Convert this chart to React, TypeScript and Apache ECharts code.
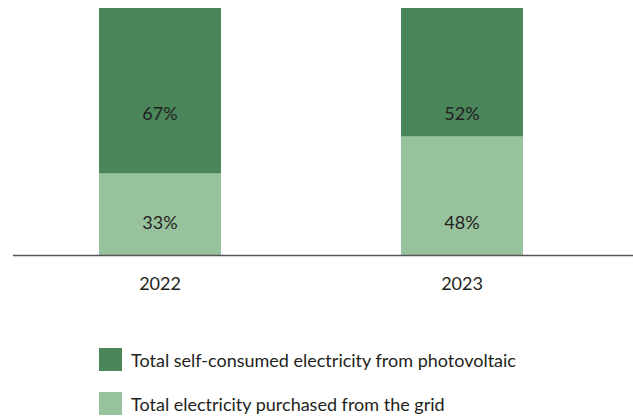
import React, { useEffect, useRef } from "react";
import * as echarts from "echarts";

const categories = ["2022", "2023"];
const selfConsumed = [67, 52];
const purchased = [33, 48];
const seriesNames = [
  "Total self-consumed electricity from photovoltaic",
  "Total electricity purchased from the grid",
];

const DARK = "#4a865a";
const LIGHT = "#98c29e";
const TEXT = "#231f20";
const FONT = "Lato";

export default function App() {
  const ref = useRef<HTMLDivElement>(null);
  useEffect(() => {
    const chart = echarts.init(ref.current!, null, { renderer: "svg" });
    chart.setOption({
      animation: false,
      textStyle: { fontFamily: FONT, color: TEXT },
      grid: { left: 9, top: 8, width: 604, height: 247, containLabel: false },
      legend: {
        orient: "vertical",
        left: 99,
        top: 348,
        padding: 0,
        itemWidth: 23,
        itemHeight: 23,
        itemGap: 21,
        icon: "rect",
        data: [seriesNames[0], seriesNames[1]],
        textStyle: { fontFamily: FONT, fontSize: 18, color: TEXT, padding: [0, 0, 0, 4] },
      },
      xAxis: {
        type: "category",
        data: categories,
        axisLine: { show: false },
        axisTick: { show: false },
        axisLabel: { margin: 19, fontSize: 18, color: TEXT, fontFamily: FONT },
      },
      yAxis: {
        type: "value",
        min: 0,
        max: 100,
        show: false,
        splitLine: { show: false },
      },
      graphic: [
        {
          type: "line",
          shape: { x1: 13, y1: 255.5, x2: 633, y2: 255.5 },
          style: { stroke: "#555", lineWidth: 1.5 },
          z: 10,
        },
      ],
      series: [
        {
          name: seriesNames[1],
          type: "bar",
          stack: "total",
          data: purchased,
          barWidth: 122,
          itemStyle: { color: LIGHT },
          label: {
            show: true,
            position: "insideBottom",
            distance: 24,
            formatter: "{c}%",
            fontSize: 18,
            color: TEXT,
            fontFamily: FONT,
          },
        },
        {
          name: seriesNames[0],
          type: "bar",
          stack: "total",
          data: selfConsumed,
          barWidth: 122,
          itemStyle: { color: DARK },
          label: {
            show: true,
            position: "insideTop",
            distance: 96,
            formatter: "{c}%",
            fontSize: 18,
            color: TEXT,
            fontFamily: FONT,
          },
        },
      ],
    });
    return () => chart.dispose();
  }, []);
  return <div ref={ref} style={{ width: 633, height: 417, position: "absolute", left: 0, top: 0 }} />;
}
